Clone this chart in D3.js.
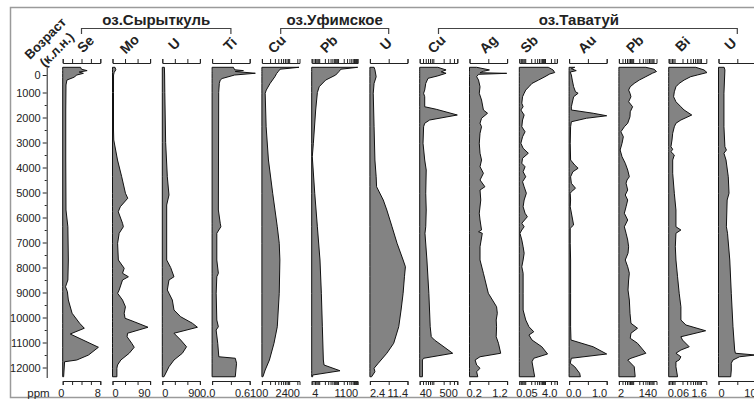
<!DOCTYPE html>
<html><head><meta charset="utf-8">
<script src="https://cdn.jsdelivr.net/npm/d3@7"></script>
<style>
body{margin:0;background:#fff}
svg{display:block;font-family:"Liberation Sans",Arial,sans-serif}
</style>
</head><body>
<svg id="chart" width="754" height="401"></svg>
<script>
// ---------------- data ----------------
const lakeNames = ["оз.Сырыткуль", "оз.Уфимское", "оз.Таватуй"];
const elements  = ["Se","Mo","U","Ti","Cu","Pb","U","Cu","Ag","Sb","Au","Pb","Bi","U"];
const lakeIndex = [0,0,0,0,1,1,1,2,2,2,2,2,2,2];
const scaleKinds = ["linear","linear","linear","linear","log","log","linear","log","linear","log","linear","log","log","linear"];
const domainLow  = [0, 0, 0, 0, 100, 4, 2.4, 40, 0.2, 0.05, 0, 2, 0.06, 0];
const domainHigh = [8, 90, 90, 0.6, 2400, 1100, 11.4, 500, 1.2, 4.0, 1.0, 140, 1.6, 10];
const lowLabels  = ["0","0","0","0.0","100","4","2.4","40","0.2","0.05","0.0","2","0.06","0"];
const highLabels = ["8","90","90","0.6","2400","1100","11.4","500","1.2","4.0","1.0","140","1.6","10"];
const linearTicks = [[0,2,4,6,8],[0,30,60,90],[0,30,60,90],[0,0.3,0.6],null,null,[2.4,6.9,11.4],null,[0.2,0.7,1.2],null,[0,0.5,1.0],null,null,[0,5,10]];
const ageTicks = [0,1000,2000,3000,4000,5000,6000,7000,8000,9000,10000,11000,12000];
const ageMinorTicks = [1500,2500,3500,4500,5500,6500,7500,8500,9500,10500,11500];
const unitLabel = "ppm";
const yTitle = ["Возраст", "(к.л.н.)"];

// series: [age (years BP), concentration]
const seData = [[-440,3.8],[-330,4.0],[-250,5.2],[-170,3.5],[-95,4.4],[0,3.0],[130,2.4],[286,0.9],[570,0.7],[1700,0.65],[3700,0.65],[5700,0.7],[6370,1.1],[7700,1.2],[8500,1.1],[8770,0.6],[8970,1.0],[9300,1.2],[9830,2.0],[10230,3.6],[10430,4.6],[10660,1.6],[11190,7.6],[11500,5.5],[11700,3.0],[11770,0.4],[12370,0.2]];
const moData = [[-440,6],[-300,8],[-150,4],[0,2.5],[1000,2.4],[2500,2.4],[2900,3],[3700,12],[4370,22],[5030,31],[5230,36.5],[5570,18.7],[5770,13.8],[6230,24],[6370,26],[6630,16],[7030,12.2],[7700,14],[8030,28],[8230,24],[8370,38],[8500,24],[8900,16],[9030,12.2],[9300,24],[9570,31],[9830,28],[10030,30],[10170,52],[10390,85],[10630,36],[10770,35],[11030,46],[11190,52],[11430,40],[11700,20],[11900,12],[12030,10.5],[12370,10.5]];
const uSyrData = [[-440,5],[0,5.5],[1000,6],[3000,8],[4370,12],[5100,16],[5500,10.5],[7700,10.5],[8000,20],[8370,28],[8500,16],[8900,12],[9030,16],[9300,24],[9700,28],[9970,44],[10230,72],[10390,84],[10630,28],[10900,44],[11170,58],[11430,48],[11700,28],[11970,16],[12370,4]];
const tiData = [[-440,0.34],[-300,0.36],[-250,0.5],[-200,0.37],[-100,0.69],[0,0.36],[200,0.16],[290,0.13],[480,0.115],[1000,0.105],[5700,0.1],[6230,0.13],[6370,0.14],[6630,0.075],[7700,0.075],[8230,0.1],[8370,0.075],[9030,0.065],[10100,0.075],[10370,0.1],[10500,0.064],[11030,0.09],[11570,0.107],[11630,0.37],[11830,0.39],[12370,0.37]];
const cuUfData = [[-440,2300],[-330,460],[-200,400],[-95,350],[95,300],[480,200],[860,145],[1030,132],[2370,143],[3700,174],[5030,249],[6370,367],[7030,433],[7700,457],[9030,433],[10370,367],[11030,278],[11700,189],[12100,132],[12370,109]];
const pbUfData = [[-440,1100],[-330,140],[-200,112],[0,75],[290,22],[670,10],[1000,8],[1700,6.5],[3030,4.9],[3570,4.3],[5030,5.8],[6370,8],[7700,11],[9030,13],[10370,14.7],[11700,16.6],[11900,18],[12130,127],[12230,18],[12300,4.5],[12370,4.5]];
const uUfData = [[-440,3.4],[-300,3.6],[100,3.9],[480,3.4],[1030,3.2],[2370,3.4],[3700,3.6],[4370,3.9],[4770,4.0],[5300,5.6],[5700,6.45],[6370,7.7],[7030,8.9],[7700,10.35],[7970,10.9],[8370,10.67],[9030,10.35],[9700,9.86],[10370,9.3],[11030,8.1],[11430,6.45],[11830,4.4],[12030,3.4],[12170,3.6],[12370,2.8]];
const cuTvData = [[-440,135],[-290,235],[-180,170],[-100,235],[50,135],[190,70],[480,60],[860,56],[1030,52],[1170,56],[1570,56],[1670,121],[1900,500],[2100,78],[2230,56],[2370,52],[3030,50],[3700,56],[4100,62],[5030,60],[5700,62],[6370,60],[6630,57],[7700,65],[9030,74],[10370,81],[10770,87],[10900,108],[11430,367],[11630,52],[11700,48],[12370,48]];
const agData = [[-440,0.39],[-290,0.73],[-210,0.57],[-130,0.48],[-95,1.19],[-40,0.44],[95,0.39],[290,0.44],[670,0.48],[1030,0.46],[1300,0.52],[1700,0.57],[1830,0.68],[2030,0.52],[2230,0.48],[2370,0.52],[2630,0.48],[3030,0.46],[3430,0.48],[3700,0.52],[3970,0.48],[4230,0.57],[4500,0.48],[4770,0.61],[4900,0.48],[5300,0.5],[5830,0.46],[6100,0.48],[6500,0.52],[6570,0.44],[6630,0.54],[7170,0.48],[7700,0.48],[8230,0.57],[9030,0.70],[9570,0.92],[9830,0.94],[10100,0.91],[10370,0.92],[10770,0.91],[11030,0.97],[11430,1.03],[11570,0.48],[11700,0.35],[11900,0.39],[12030,0.48],[12170,0.39],[12370,0.42]];
const sbData = [[-440,1.46],[-290,2.55],[-140,3.1],[-60,1.75],[95,1.0],[290,0.47],[480,0.22],[670,0.154],[860,0.106],[1030,0.088],[1170,0.073],[1430,0.067],[1570,0.078],[1700,0.06],[1900,0.088],[2100,0.073],[2370,0.067],[2570,0.098],[2770,0.073],[3030,0.06],[3230,0.078],[3430,0.143],[3630,0.073],[3830,0.067],[3970,0.098],[4170,0.078],[4370,0.106],[4570,0.073],[4770,0.088],[5030,0.114],[5300,0.088],[5570,0.078],[5830,0.098],[5970,0.128],[6230,0.067],[6370,0.088],[6500,0.067],[6630,0.054],[6900,0.067],[7170,0.078],[7430,0.088],[7700,0.078],[7970,0.067],[8230,0.078],[9030,0.078],[9700,0.078],[10100,0.106],[10370,0.154],[10570,0.27],[10700,0.154],[10900,0.22],[11170,0.69],[11460,1.35],[11630,0.27],[11770,0.22],[12370,0.30]];
const auData = [[-440,0.15],[-360,0.06],[-250,0.19],[-170,0.03],[0,0.06],[290,0.084],[670,0.12],[960,0.17],[1030,0.24],[1170,0.12],[1570,0.06],[1700,0.06],[1830,0.64],[1930,1.0],[2030,0.46],[2170,0.06],[2370,0.04],[3030,0.03],[3700,0.04],[3900,0.15],[4030,0.24],[4170,0.1],[4370,0.04],[4630,0.06],[4830,0.17],[4970,0.06],[5030,0.03],[5300,0.04],[5570,0.03],[6300,0.12],[6430,0.03],[7030,0.03],[7700,0.04],[9030,0.04],[10370,0.04],[10900,0.05],[11170,0.64],[11460,1.0],[11630,0.06],[11830,0.03],[11970,0.15],[12230,0.28],[12370,0.3]];
const pbTvData = [[-440,42],[-330,106],[-200,140],[-100,88],[95,42],[290,20],[480,11.3],[670,7.2],[860,6.0],[1030,7.0],[1170,7.8],[1370,6.0],[1570,9.4],[1770,7.2],[1970,7.0],[2230,5.4],[2370,3.7],[2570,2.5],[2770,3.3],[3030,2.85],[3300,2.3],[3570,2.85],[3830,4.1],[4100,5.4],[4370,6.5],[4500,5.0],[4630,4.5],[4900,5.4],[5100,4.1],[5300,5.4],[5570,4.5],[5830,3.7],[6100,5.4],[6370,3.7],[6630,4.5],[6900,5.4],[7170,6.0],[7430,5.6],[7700,4.1],[7970,5.4],[8230,6.5],[8500,6.0],[8900,5.6],[9300,6.5],[9830,7.0],[10230,7.8],[10430,16.4],[10630,7.8],[10830,7.2],[11030,16.4],[11430,42],[11630,7.8],[11700,5.4],[11970,11.3],[12370,12.6]];
const biData = [[-440,0.64],[-290,1.31],[-140,1.7],[0,0.73],[95,0.41],[290,0.23],[480,0.15],[670,0.113],[960,0.098],[1170,0.092],[1370,0.113],[1570,0.174],[1700,0.23],[1900,0.45],[2100,0.174],[2230,0.113],[2370,0.098],[2630,0.085],[2900,0.08],[3170,0.073],[3270,0.085],[3370,0.073],[3500,0.098],[3700,0.085],[4230,0.085],[5030,0.098],[5700,0.113],[6370,0.113],[6500,0.174],[6630,0.113],[7170,0.107],[7700,0.113],[8370,0.13],[9030,0.15],[9570,0.174],[10100,0.174],[10300,0.27],[10530,1.51],[10770,0.174],[10900,0.2],[11170,0.36],[11300,0.174],[11430,0.113],[11570,0.174],[11700,0.15],[11770,0.113],[11970,0.113],[12370,0.13]];
const uTvData = [[-440,1.5],[-290,1.7],[1030,1.45],[2370,1.45],[3170,1.7],[3300,2.1],[3430,1.45],[3700,2.0],[4370,2.6],[5030,2.8],[5300,2.3],[6370,2.1],[6630,2.4],[7700,3.0],[9030,3.4],[10370,3.85],[11300,4.3],[11430,4.5],[11500,9.8],[11570,5.6],[11700,3.85],[11830,3.4],[12100,3.4],[12370,3.25]];

const seriesList = [seData, moData, uSyrData, tiData, cuUfData, pbUfData, uUfData, cuTvData, agData, sbData, auData, pbTvData, biData, uTvData];

// ---------------- layout ----------------
const svg = d3.select("#chart");
const firstLeft = 62.7, gap = 12.2;
const widths = elements.map((e,i) => i === 5 ? 46 : 37.6);
const lefts = [];
widths.reduce((acc,w) => { lefts.push(acc); return acc + w + gap; }, firstLeft);
// horizontal nudges of the lower-end value labels (as in the original figure)
const lowLabelNudge = [-4.5,0,0,-12,-12,0.5,0,0,-3,-3,-3,-1,-1,0];
const headerNudge = [4,-2,-7,-1,-4,-6,-3,-2,0,-9,-1,-3,-5,-7];

const topAxisY = 63, bottomAxisY = 381, labelY = 397;
const fillColor = "#838383", lineColor = "#111", textColor = "#222";

const y = d3.scaleLinear().domain([-440, 0, 1000, 12400]).range([67.3, 75, 92.5, 377.5]);

// frame
svg.append("path").attr("d", "M754,7.5H10.5V397.5H754")
  .attr("fill","none").attr("stroke","#9a9a9a").attr("stroke-width",1.5);

// y axis
const yAxisG = svg.append("g").attr("transform","translate(46.7,0)")
  .call(d3.axisLeft(y).tickValues(ageTicks).tickSize(4).tickSizeOuter(0).tickPadding(2).tickFormat(d3.format("d")));
yAxisG.selectAll("text").attr("font-size",11).attr("fill",textColor).attr("font-family","Liberation Sans, Arial, sans-serif");
yAxisG.selectAll("line,path").attr("stroke","#222");
const yMinor = svg.append("g").attr("transform","translate(46.7,0)")
  .call(d3.axisLeft(y).tickValues(ageMinorTicks).tickSize(2).tickFormat(""));
yMinor.select(".domain").remove();
yMinor.selectAll("line").attr("stroke","#222");

// y title
const yt = svg.append("g").attr("transform","translate(51,44) rotate(-45)");
yTitle.forEach((t,k) => {
  yt.append("text").attr("x",0).attr("y", k === 0 ? -8 : 8)
    .attr("text-anchor","middle").attr("dominant-baseline","central")
    .attr("font-size",13).attr("font-weight","bold").attr("fill",textColor).text(t);
});

// unit label
svg.append("text").attr("x",38.5).attr("y",labelY).attr("text-anchor","middle")
  .attr("font-size",11.5).attr("fill",textColor).text(unitLabel);

// columns
elements.forEach((el,i) => {
  const L = lefts[i], W = widths[i];
  const x = (scaleKinds[i] === "log" ? d3.scaleLog() : d3.scaleLinear())
    .domain([domainLow[i], domainHigh[i]]).range([L, L + W]);
  const ticks = scaleKinds[i] === "log" ? x.ticks().filter(t => t >= domainLow[i]*0.999 && t <= domainHigh[i]*1.001) : linearTicks[i];
  const g = svg.append("g");

  const area = d3.area()
    .x0(x.range()[0])
    .x1(d => x(d[1]))
    .y(d => y(d[0]));
  g.append("path").datum(seriesList[i]).attr("d", area)
    .attr("fill", fillColor).attr("stroke", lineColor).attr("stroke-width", 1).attr("stroke-linejoin","round");

  const ta = g.append("g").attr("transform",`translate(0,${topAxisY})`)
    .call(d3.axisTop(x).tickValues(ticks).tickSize(4).tickFormat(""));
  ta.selectAll("line,path").attr("stroke","#222");
  const ba = g.append("g").attr("transform",`translate(0,${bottomAxisY})`)
    .call(d3.axisBottom(x).tickValues(ticks).tickSize(4).tickFormat(""));
  ba.selectAll("line,path").attr("stroke","#222");

  g.append("text").attr("x", L + lowLabelNudge[i]).attr("y", labelY).attr("text-anchor","start")
    .attr("font-size",11).attr("fill",textColor).text(lowLabels[i]);
  g.append("text").attr("x", L + W + 0.5).attr("y", labelY).attr("text-anchor","end")
    .attr("font-size",11).attr("fill",textColor).text(highLabels[i]);

  g.append("text").attr("transform",`translate(${L + W/2 + headerNudge[i]},44) rotate(-45)`)
    .attr("text-anchor","middle").attr("dominant-baseline","central")
    .attr("font-size",14).attr("font-weight","bold").attr("fill",textColor).text(el);
});

// lake headers with brackets
lakeNames.forEach((name,k) => {
  const idx = lakeIndex.map((v,i) => v === k ? i : -1).filter(i => i >= 0);
  const c0 = lefts[idx[0]] + widths[idx[0]]/2;
  const c1 = lefts[idx[idx.length-1]] + widths[idx[idx.length-1]]/2;
  svg.append("path").attr("d", `M${c0},34V28.5H${c1}V34`)
    .attr("fill","none").attr("stroke","#444").attr("stroke-width",1.2);
  svg.append("text").attr("x",(c0+c1)/2 - (k === 2 ? 9 : 0)).attr("y",24.5).attr("text-anchor","middle")
    .attr("font-size",15).attr("font-weight","bold").attr("fill",textColor).text(name);
});
</script>
</body></html>
